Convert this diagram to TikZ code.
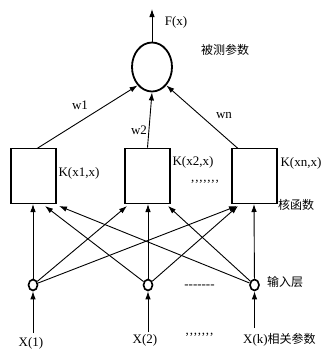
\documentclass[tikz,border=0pt]{standalone}
\usepackage{fontspec}
\setmainfont{Liberation Serif}
\newfontfamily\cjk{Noto Sans CJK SC}
\usetikzlibrary{shapes.geometric,arrows.meta}
\begin{document}
\begin{tikzpicture}[x=1pt,y=-1pt,
  arr/.style={-{Latex[length=8pt,width=5.5pt]},line width=0.9pt},
  kbox/.style={draw,line width=1.6pt,minimum width=45pt,minimum height=55pt,inner sep=0pt},
  inp/.style={draw,ellipse,line width=1.6pt,minimum width=9pt,minimum height=11pt,inner sep=0pt},
  lbl/.style={font=\fontsize{13}{13}\selectfont,inner sep=0pt},
  zh/.style={font=\cjk\fontsize{12}{12}\selectfont,inner sep=0pt}]
\useasboundingbox (0,0) rectangle (322,349);
% output neuron
\node[draw,ellipse,line width=1.8pt,minimum width=40pt,minimum height=49pt,inner sep=0pt] (out) at (152,67) {};
\coordinate (top) at (152,9);
\draw[arr] (out.north) -- (top);
\node[lbl] (fx) at (176,22) {F(x)};
\node[zh] (bc) at (225,50) {被测参数};
% kernel boxes
\node[kbox] (k1) at (33.5,176) {};
\node[kbox] (k2) at (147.5,176) {};
\node[kbox] (k3) at (254.5,176) {};
\node[lbl] (k1l) at (79,173) {K(x1,x)};
\node[lbl] (k2l) at (193,162) {K(x2,x)};
\node[lbl] (k3l) at (301,163) {K(xn,x)};
\node[lbl,anchor=base] (dots1) at (205,181) {,\kern0.8pt,\kern0.8pt,\kern0.8pt,\kern0.8pt,\kern0.8pt,\kern0.8pt,};
\node[zh] (hhs) at (296,205) {核函数};
% weights
\coordinate (k1t) at (37,148.5);
\coordinate (k3t) at (238,148.5);
\draw[arr] (k1t) -- (out.-128);
\draw[arr] (k2.north) -- (out.south);
\draw[arr] (k3t) -- (out.-52);
\node[lbl] (w1) at (80,105) {w1};
\node[lbl] (w2) at (139,130) {w2};
\node[lbl] (wn) at (224,115) {wn};
% input neurons
\node[inp] (c1) at (33,285) {};
\node[inp] (c2) at (148,285) {};
\node[inp] (c3) at (254.5,285) {};
\node[zh] (srl) at (285,282) {输入层};
\node[lbl,anchor=base] (dash) at (199.5,288) {-{}-{}-{}-{}-{}-{}-};
% targets on box bottoms
\coordinate (t11) at (33,204);
\coordinate (t12) at (45,206);
\coordinate (t13) at (59,206);
\coordinate (t21) at (127,206);
\coordinate (t22) at (148,204);
\coordinate (t23) at (168,206);
\coordinate (t31) at (237,206);
\coordinate (t32) at (238,206);
\coordinate (t33) at (254,204);
\draw[arr] (c1) -- (t11);
\draw[arr] (c2) -- (t12);
\draw[arr] (c3) -- (t13);
\draw[arr] (c1) -- (t21);
\draw[arr] (c2) -- (t22);
\draw[arr] (c3) -- (t23);
\draw[arr] (c1) -- (t31);
\draw[arr] (c2) -- (t32);
\draw[arr] (c3) -- (t33);
% inputs
\coordinate (x1s) at (33,333);
\coordinate (x2s) at (148,332);
\coordinate (x3s) at (254.5,328);
\draw[arr] (x1s) -- (c1.south);
\draw[arr] (x2s) -- (c2.south);
\draw[arr] (x3s) -- (c3.south);
\node[lbl] (x1) at (31,343) {X(1)};
\node[lbl] (x2) at (145,340) {X(2)};
\node[lbl,anchor=west] (x3) at (243,340) {X(k)\cjk\fontsize{12}{12}\selectfont 相关参数};
\node[lbl,anchor=base] (dots2) at (199.5,334) {,\kern0.8pt,\kern0.8pt,\kern0.8pt,\kern0.8pt,\kern0.8pt,\kern0.8pt,};
\end{tikzpicture}
\end{document}
